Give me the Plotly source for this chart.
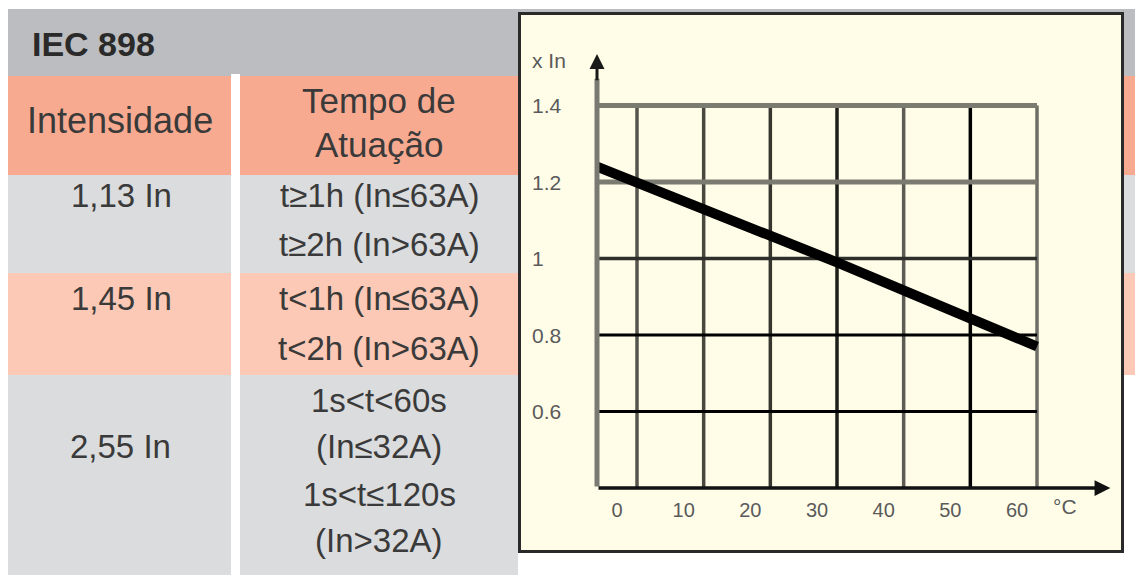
import plotly.graph_objects as go

# ---------------- data ----------------
table_title = "IEC 898"
col_headers = [["Intensidade"], ["Tempo de", "Atuação"]]
intensities = ["1,13 In", "1,45 In", "2,55 In"]
times = [
    ["t≥1h (In≤63A)", "t≥2h (In>63A)"],
    ["t<1h (In≤63A)", "t<2h (In>63A)"],
    ["1s<t<60s", "(In≤32A)", "1s<t≤120s", "(In>32A)"],
]

curve_temp = [-6, 30, 60]          # °C
curve_factor = [1.24, 0.99, 0.77]  # x In

x_ticks = [0, 10, 20, 30, 40, 50, 60]
x_ticklabels = ["0", "10", "20", "30", "40", "50", "60"]
y_ticks = [0.6, 0.8, 1.0, 1.2, 1.4]
y_ticklabels = ["0.6", "0.8", "1", "1.2", "1.4"]
caption = "Fator de temperatura diferente de 30°C"

# ---------------- layout helpers ----------------
# the page body adds an 8px margin; the figure fills the rest of the window
OFF = 8
W, H = 1143 - OFF, 575 - OFF
def px(x):
    return (x - OFF) / W
def py(y):
    return 1 - (y - OFF) / H

FONT = "Liberation Sans, Arial, sans-serif"
TXT = "#3a3a3a"
LBL = "#5a5a5a"

shapes = []
def rect(x0, y0, x1, y1, fill, line=None, lw=0):
    shapes.append(dict(type="rect", xref="paper", yref="paper",
                       x0=px(x0), x1=px(x1), y0=py(y1), y1=py(y0),
                       fillcolor=fill, line=dict(width=lw, color=line or fill),
                       layer="below"))

# table bands
rect(7, 9, 1143, 76, "#BCBDC0")
rect(7, 76, 1143, 175, "#F8AA91")
rect(7, 175, 1143, 273, "#DBDCDE")
rect(7, 273, 1143, 375, "#FBC9B5")
rect(7, 375, 518, 575, "#DBDCDE")
rect(231, 74, 240, 575, "#FFFFFF")
# chart box
rect(519.5, 13.5, 1122.5, 551.5, "#FFFDE8", line="#2a2a2a", lw=3)

# grid lines (data coordinates)
v_colors = ["#55554d", "#48483f", "#36362f", "#1e1e1a", "#5c5c54", "#000000", "#6e6e66"]
for t, c in zip(x_ticks, v_colors):
    shapes.append(dict(type="line", xref="x", yref="y", x0=t, x1=t,
                       y0=0.4, y1=1.4, line=dict(color=c, width=3.5), layer="below"))
h_colors = ["#000000", "#000000", "#2e2e2a", "#7b7b71", "#7b7b71"]
h_widths = [3, 3, 3.5, 5, 5]
for v, c, w in zip(y_ticks, h_colors, h_widths):
    shapes.append(dict(type="line", xref="x", yref="y", x0=-6, x1=60,
                       y0=v, y1=v, line=dict(color=c, width=w), layer="below"))

annotations = []
def text(x, y, s, size, color=TXT, xanchor="center", bold=False, yanchor="middle"):
    annotations.append(dict(
        xref="paper", yref="paper", x=px(x), y=py(y), text=(f"<b>{s}</b>" if bold else s),
        showarrow=False, xanchor=xanchor, yanchor=yanchor,
        font=dict(family=FONT, size=size, color=color)))

# table text
text(30, 44, table_title, 34, color="#2a2a2a", xanchor="left", bold=True)
text(120, 120, col_headers[0][0], 36)
text(379, 100, col_headers[1][0], 35)
text(379, 145, col_headers[1][1], 35)

text(121, 195, intensities[0], 33)
text(121, 298, intensities[1], 33)
text(120, 446, intensities[2], 33)

time_y = [[195, 245], [298, 348], [400, 446, 494, 540]]
for lines, ys in zip(times, time_y):
    for s, yy in zip(lines, ys):
        text(379, yy, s, 33)

# chart labels
text(530, 61, "x In", 21, color=LBL, xanchor="left")
text(1065, 506, "°C", 21, color=LBL)
for v, lab in zip(y_ticks, y_ticklabels):
    annotations.append(dict(xref="paper", yref="y", x=px(530), y=v, text=lab,
                            showarrow=False, xanchor="left", yanchor="middle",
                            font=dict(family=FONT, size=21, color=LBL)))

# caption (cut off at the bottom edge, as in the source)
text(560, 569, caption, 24, color="#333333", xanchor="left", yanchor="top")

# axes with arrows
def arrow(x0, y0, x1, y1, color, width, head=0, size=1.0, skip=0):
    annotations.append(dict(xref="x", yref="y", axref="x", ayref="y",
                            x=x1, y=y1, ax=x0, ay=y0, text="", showarrow=True,
                            arrowhead=head, arrowsize=size, arrowwidth=width,
                            arrowcolor=color, startstandoff=skip))

arrow(-6, 0.4, -6, 1.47, "#7a7a72", 5)
arrow(-6, 1.41, -6, 1.535, "#1a1a1a", 3, head=2, size=1.0, skip=20)
arrow(-6, 0.4, 71, 0.4, "#111111", 3.5, head=2, size=0.9)

fig = go.Figure()
fig.add_trace(go.Scatter(x=curve_temp, y=curve_factor, mode="lines",
                         line=dict(color="#000000", width=10),
                         hoverinfo="skip", showlegend=False))

fig.update_layout(
    width=W, height=H,
    margin=dict(l=0, r=0, t=0, b=0),
    paper_bgcolor="#FFFFFF",
    plot_bgcolor="rgba(0,0,0,0)",
    shapes=shapes,
    annotations=annotations,
    showlegend=False,
    xaxis=dict(range=[-6, 60.6], domain=[px(597), px(1041)],
               showgrid=False, zeroline=False, showline=False,
               tickmode="array", tickvals=x_ticks, ticktext=x_ticklabels,
               ticks="", ticklabelshift=-20, ticklabelstandoff=8,
               tickfont=dict(family=FONT, size=20, color=LBL), fixedrange=True),
    yaxis=dict(range=[0.4, 1.415], domain=[py(488), py(99.8)],
               showgrid=False, zeroline=False, showline=False,
               showticklabels=False, ticks="", fixedrange=True),
)

fig.write_html("out.html")
